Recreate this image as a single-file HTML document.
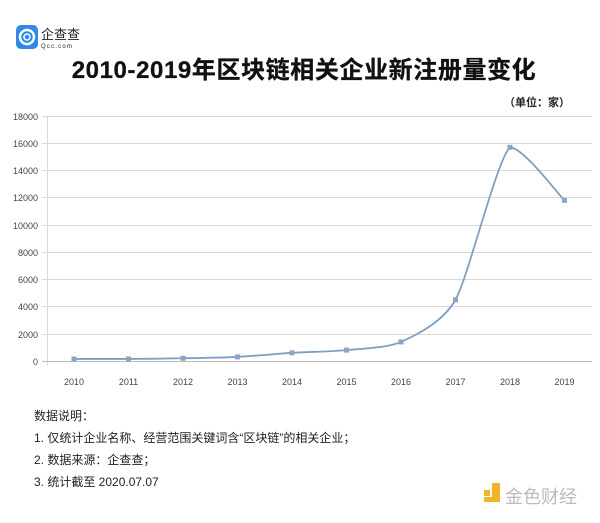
<!DOCTYPE html>
<html><head><meta charset="utf-8"><style>
body{margin:0;background:#fff;width:600px;height:518px;overflow:hidden;font-family:"Liberation Sans","Noto Sans CJK SC",sans-serif}
</style></head><body>
<svg width="600" height="518" xmlns="http://www.w3.org/2000/svg" font-family="Liberation Sans, Noto Sans CJK SC, sans-serif">
<rect x="16" y="25" width="22" height="24" rx="5" fill="#2e8ae6"/>
<circle cx="27" cy="37" r="7" fill="none" stroke="#fff" stroke-width="2.5"/>
<circle cx="27" cy="37" r="3" fill="none" stroke="#fff" stroke-width="1.5"/>
<text x="41" y="39" font-size="13" fill="#222">企查查</text>
<text x="41" y="48" font-size="6" fill="#222" letter-spacing="1.2">Qcc.com</text>
<text x="304" y="78" font-size="24" font-weight="bold" text-anchor="middle" fill="#111" letter-spacing="0.6" stroke="#111" stroke-width="0.3">2010-2019年区块链相关企业新注册量变化</text>
<text x="570" y="106" font-size="11" font-weight="bold" text-anchor="end" fill="#222">（单位：家）</text>
<g stroke="#d9d9d9" stroke-width="1">
<line x1="42" y1="116.5" x2="592" y2="116.5"/><line x1="42" y1="143.5" x2="592" y2="143.5"/>
<line x1="42" y1="170.5" x2="592" y2="170.5"/><line x1="42" y1="197.5" x2="592" y2="197.5"/>
<line x1="42" y1="225.5" x2="592" y2="225.5"/><line x1="42" y1="252.5" x2="592" y2="252.5"/>
<line x1="42" y1="279.5" x2="592" y2="279.5"/><line x1="42" y1="306.5" x2="592" y2="306.5"/>
<line x1="42" y1="334.5" x2="592" y2="334.5"/>
<line x1="47.5" y1="116" x2="47.5" y2="366"/>
</g>
<line x1="42" y1="361.5" x2="592" y2="361.5" stroke="#bbb"/>
<g font-size="9" fill="#444" text-anchor="end">
<text x="38" y="120">18000</text><text x="38" y="147">16000</text><text x="38" y="174">14000</text>
<text x="38" y="201">12000</text><text x="38" y="229">10000</text><text x="38" y="256">8000</text>
<text x="38" y="283">6000</text><text x="38" y="310">4000</text><text x="38" y="338">2000</text><text x="38" y="365">0</text>
</g>
<g font-size="9" fill="#444" text-anchor="middle" id="xl"></g>
<path id="ln" fill="none" stroke="#7f9fc0" stroke-width="1.8"/>
<g id="mk" fill="#8aa6c4"></g>
<text x="34" y="420" font-size="12" fill="#222">数据说明：</text>
<text x="34" y="442" font-size="12" fill="#222">1. 仅统计企业名称、经营范围关键词含“区块链”的相关企业；</text>
<text x="34" y="464" font-size="12" fill="#222">2. 数据来源：企查查；</text>
<text x="34" y="486" font-size="12" fill="#222">3. 统计截至 2020.07.07</text>
<rect x="484" y="490" width="6" height="6" fill="#f0b429"/>
<path d="M492 483h8v19h-16v-5h8z" fill="#f0b429"/>
<text x="505" y="503" font-size="18" fill="#bbb">金色财经</text>
</svg>
<script>
var d=[150,150,200,300,600,800,1400,4500,15700,11800];
var pts=d.map(function(v,i){return [74+i*54.5,361-v*245/18000];});
var p="M"+pts[0][0]+" "+pts[0][1];
for(var i=0;i<pts.length-1;i++){var a=pts[i-1]||pts[i],b=pts[i],c=pts[i+1],e=pts[i+2]||c;var t=0.12;
var y1=b[1]+(c[1]-a[1])*t, y2=c[1]-(e[1]-b[1])*t;
var lo=Math.min(b[1],c[1]),hi=Math.max(b[1],c[1]);
y1=Math.max(lo,Math.min(hi,y1));y2=Math.max(lo,Math.min(hi,y2));
p+=" C"+(b[0]+(c[0]-a[0])*t)+" "+y1+" "+(c[0]-(e[0]-b[0])*t)+" "+y2+" "+c[0]+" "+c[1];}
document.getElementById("ln").setAttribute("d",p);
var mk="",xl="";pts.forEach(function(q,i){mk+='<rect x="'+(q[0]-2.5)+'" y="'+(q[1]-2.5)+'" width="5" height="5"/>';xl+='<text x="'+q[0]+'" y="385">'+(2010+i)+'</text>';});
document.getElementById("mk").innerHTML=mk;document.getElementById("xl").innerHTML=xl;
</script>
</body></html>
